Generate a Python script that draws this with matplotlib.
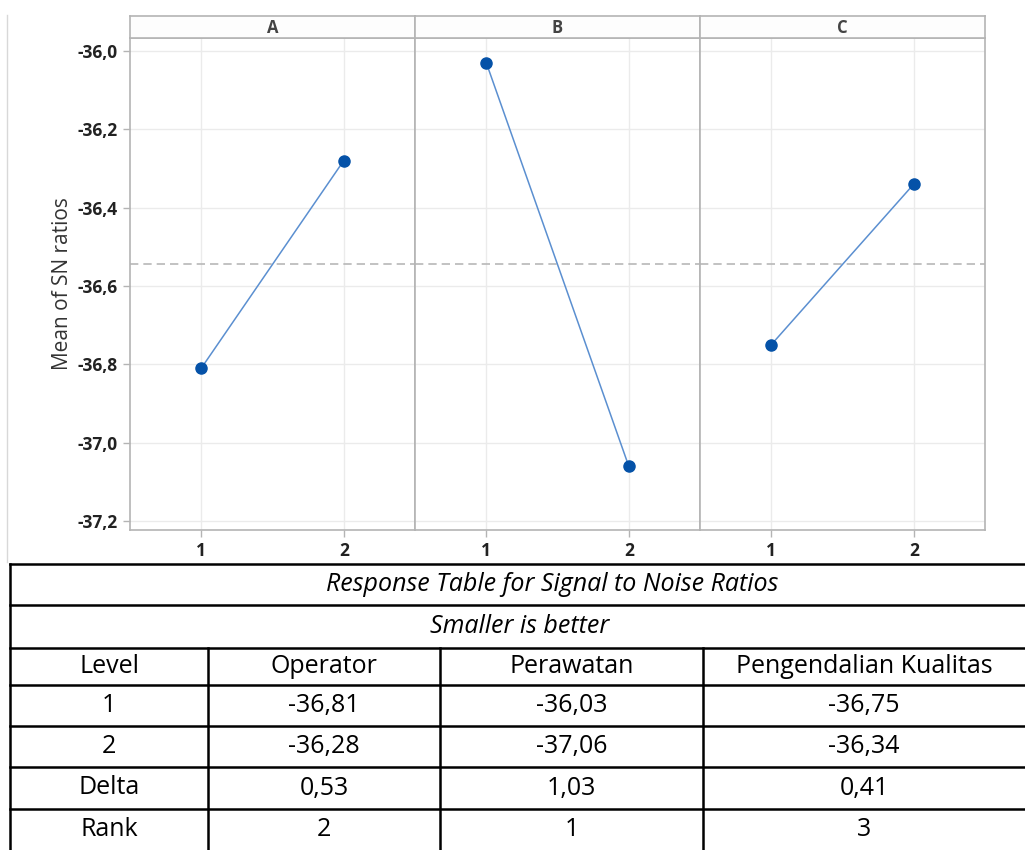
import matplotlib
matplotlib.use("Agg")
import matplotlib.pyplot as plt
from matplotlib.ticker import FuncFormatter, FixedLocator

plt.rcParams['font.family'] = ['Open Sans', 'DejaVu Sans']

# data
factors = ['A', 'B', 'C']
levels = [1, 2]
sn_means = {
    'A': [-36.81, -36.28],
    'B': [-36.03, -37.06],
    'C': [-36.75, -36.34],
}
yticks = [-36.0, -36.2, -36.4, -36.6, -36.8, -37.0, -37.2]

table_title = 'Response Table for Signal to Noise Ratios'
table_subtitle = 'Smaller is better'
col_names = ['Level', 'Operator', 'Perawatan', 'Pengendalian Kualitas']
row_labels = ['1', '2', 'Delta', 'Rank']
operator_vals = ['-36,81', '-36,28', '0,53', '2']
perawatan_vals = ['-36,03', '-37,06', '1,03', '1']
kualitas_vals = ['-36,75', '-36,34', '0,41', '3']

all_vals = [v for f in factors for v in sn_means[f]]
grand_mean = sum(all_vals) / len(all_vals)

W, H = 1025, 850
fig = plt.figure(figsize=(W / 100, H / 100), dpi=100)

frame_col = '#b4b4b4'
grid_col = '#ebebeb'
text_col = '#333333'

left, pw = 130, 285
top, bottom = 38, 530
strip_top = 16
comma = FuncFormatter(lambda v, p: f'{v:.1f}'.replace('.', ','))

for i, f in enumerate(factors):
    x0 = left + i * pw
    ax = fig.add_axes([x0 / W, 1 - bottom / H, pw / W, (bottom - top) / H])
    ax.plot(levels, sn_means[f], color='#5b8fd0', lw=1.1, zorder=3)
    ax.plot(levels, sn_means[f], 'o', color='#0552a8', ms=8, zorder=4)
    ax.axhline(grand_mean, color='#b8b8b8', lw=1.2, ls=(0, (5, 3)), zorder=2)
    ax.set_xlim(0.5, 2.5)
    ax.set_ylim(-37.223, -35.967)
    ax.yaxis.set_major_locator(FixedLocator(yticks))
    ax.yaxis.set_major_formatter(comma)
    ax.set_xticks(levels)
    ax.grid(True, color=grid_col, lw=1, zorder=0)
    ax.set_axisbelow(True)
    for s in ax.spines.values():
        s.set_color(frame_col)
        s.set_linewidth(1.2)
    ax.tick_params(axis='both', colors=frame_col, labelcolor='#222222',
                   length=5, width=1, labelsize=12.5, pad=4)
    for lab in ax.get_xticklabels() + ax.get_yticklabels():
        lab.set_fontweight('bold')
    if i > 0:
        ax.tick_params(axis='y', left=False, labelleft=False)
    else:
        ax.set_ylabel('Mean of SN ratios', fontsize=15, color=text_col, labelpad=3)

    sax = fig.add_axes([x0 / W, 1 - top / H, pw / W, (top - strip_top) / H])
    sax.set_xticks([])
    sax.set_yticks([])
    sax.set_facecolor('#fdfdfd')
    for s in sax.spines.values():
        s.set_color(frame_col)
        s.set_linewidth(1.2)
    sax.text(0.5, 0.45, f, ha='center', va='center', fontsize=12,
             fontweight='bold', color='#444444', transform=sax.transAxes)

# table
tax = fig.add_axes([0, 0, 1, 1], zorder=-1)
tax.set_xlim(0, W)
tax.set_ylim(H, 0)
tax.axis('off')

tax.plot([7, 7], [15, 562], color='#d8d8d8', lw=1)

row_y = [564, 605, 648, 685, 726, 767, 809, 850]
col_x = [10, 208, 440, 703, 1025]
lw = 1.8
for y in row_y[:-1]:
    tax.plot([col_x[0], col_x[-1]], [y, y], color='black', lw=lw)
tax.plot([col_x[0], col_x[0]], [row_y[0], row_y[-1]], color='black', lw=lw)
for x in col_x[1:-1]:
    tax.plot([x, x], [row_y[2], row_y[-1]], color='black', lw=lw)

tfs = 18
tax.text(552, (row_y[0] + row_y[1]) / 2, table_title,
         ha='center', va='center', fontsize=tfs, style='italic', color='black')
tax.text(520, (row_y[1] + row_y[2]) / 2, table_subtitle,
         ha='center', va='center', fontsize=tfs, style='italic', color='black')

columns = [row_labels, operator_vals, perawatan_vals, kualitas_vals]
for c, name in enumerate(col_names):
    cx = (col_x[c] + col_x[c + 1]) / 2
    tax.text(cx, (row_y[2] + row_y[3]) / 2, name, ha='center', va='center',
             fontsize=tfs, color='black')
    for r, val in enumerate(columns[c]):
        cy = (row_y[3 + r] + row_y[4 + r]) / 2
        tax.text(cx, cy, val, ha='center', va='center', fontsize=tfs, color='black')

fig.savefig('out.png', dpi=100)
